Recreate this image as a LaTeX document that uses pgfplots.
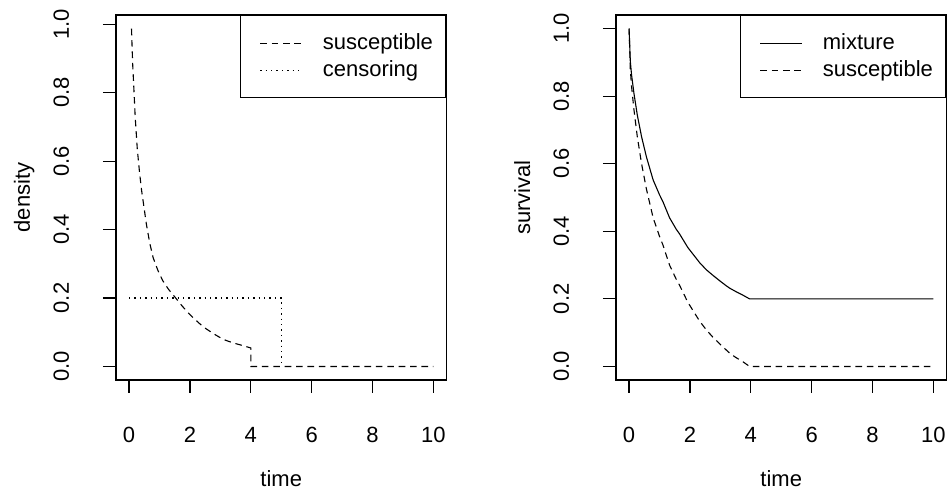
\documentclass[border=0pt]{standalone}
\usepackage{pgfplots}
\pgfplotsset{compat=1.18}
\usepackage{fontspec}
\setmainfont{Liberation Sans}
\begin{document}
\begin{tikzpicture}[font=\fontsize{11}{13}\selectfont]
\path[use as bounding box] (0,0) rectangle (475pt,245.5pt);
\pgfplotsset{
  rstyle/.style={
    scale only axis, width=165.25pt, height=182.5pt,
    xmin=-0.43, xmax=10.43,
    axis line style={line width=0.6pt},
    tick align=outside, tick pos=left,
    major tick length=6.5pt,
    every tick/.style={black, line width=0.6pt},
    xtick={0,2,4,6,8,10},
    ytick={0,0.2,0.4,0.6,0.8,1.0},
    yticklabels={0.0,0.2,0.4,0.6,0.8,1.0},
    xticklabels={0,2,4,6,8,10},
    xticklabel style={yshift=-25pt, anchor=base, inner sep=0pt},
    yticklabel style={xshift=-17pt, rotate=90, anchor=base, inner sep=0pt},
    xlabel style={at={([yshift=-53.5pt]axis description cs:0.5,0)}, anchor=base, inner sep=0pt},
    ylabel style={at={([xshift=-43pt]axis description cs:0,0.5)}, anchor=base, inner sep=0pt, rotate=0},
    legend cell align=left,
    legend style={at={(rel axis cs:1,1)}, anchor=north east, draw=black, line width=0.6pt,
      inner xsep=6.5pt, inner ysep=8.4pt, row sep=2.8pt,
      nodes={inner sep=0pt, text height=8.5pt, text depth=2.2pt, anchor=base west}},
    legend image code/.code={\path (-3pt,0pt) (31pt,0pt); \draw[##1] (0pt,2.9pt) -- (21pt,2.9pt);},
  },
  rdash/.style={black, line width=0.55pt, dash pattern=on 3.3pt off 2.4pt},
  rdot/.style={black, line width=0.55pt, dash pattern=on 0.7pt off 2.0pt},
  rsolid/.style={black, line width=0.55pt},
}
\begin{axis}[rstyle, at={(58pt,55.5pt)}, anchor=south west,
  ymin=-0.0395, ymax=1.027, xlabel={time}, ylabel={density}]
\addplot[rdash] coordinates {
(0.08,0.987)(0.10,0.93)(0.12,0.88)(0.16,0.807)(0.20,0.73)(0.27,0.635)(0.34,0.57)
(0.41,0.515)(0.49,0.465)(0.57,0.415)(0.68,0.36)(0.79,0.318)(0.95,0.28)(1.11,0.25)
(1.3,0.225)(1.55,0.198)(1.75,0.176)(1.93,0.158)(2.1,0.143)(2.32,0.125)(2.5,0.112)
(2.75,0.097)(3.0,0.084)(3.19,0.076)(3.45,0.068)(3.74,0.061)(4.0,0.054)(4.0,0)(10,0)};
\addlegendentry{susceptible}
\addplot[rdot] coordinates {(0,0.2)(5,0.2)(5,0)};
\addlegendentry{censoring}
\end{axis}
\begin{axis}[rstyle, at={(308pt,55.5pt)}, anchor=south west,
  ymin=-0.04, ymax=1.04, xlabel={time}, ylabel={survival}]
\addplot[rsolid] coordinates {
(0,1.0)(0.04,0.904)(0.08,0.864)(0.16,0.808)(0.27,0.744)(0.41,0.68)(0.57,0.62)
(0.79,0.552)(1.0,0.508)(1.11,0.488)(1.33,0.44)(1.55,0.406)(1.66,0.392)(1.93,0.352)
(2.32,0.307)(2.54,0.286)(2.75,0.270)(3.0,0.252)(3.19,0.239)(3.3,0.232)(3.5,0.222)
(3.74,0.211)(3.96,0.2)(10,0.2)};
\addlegendentry{mixture}
\addplot[rdash] coordinates {
(0,1.0)(0.04,0.88)(0.08,0.83)(0.16,0.76)(0.27,0.68)(0.41,0.60)(0.57,0.525)
(0.79,0.44)(1.0,0.385)(1.11,0.36)(1.33,0.30)(1.55,0.258)(1.66,0.24)(1.93,0.19)
(2.32,0.134)(2.54,0.108)(2.75,0.087)(3.0,0.065)(3.19,0.049)(3.3,0.040)(3.5,0.027)
(3.74,0.014)(3.96,0.0)(10,0)};
\addlegendentry{susceptible}
\end{axis}
\end{tikzpicture}
\end{document}
